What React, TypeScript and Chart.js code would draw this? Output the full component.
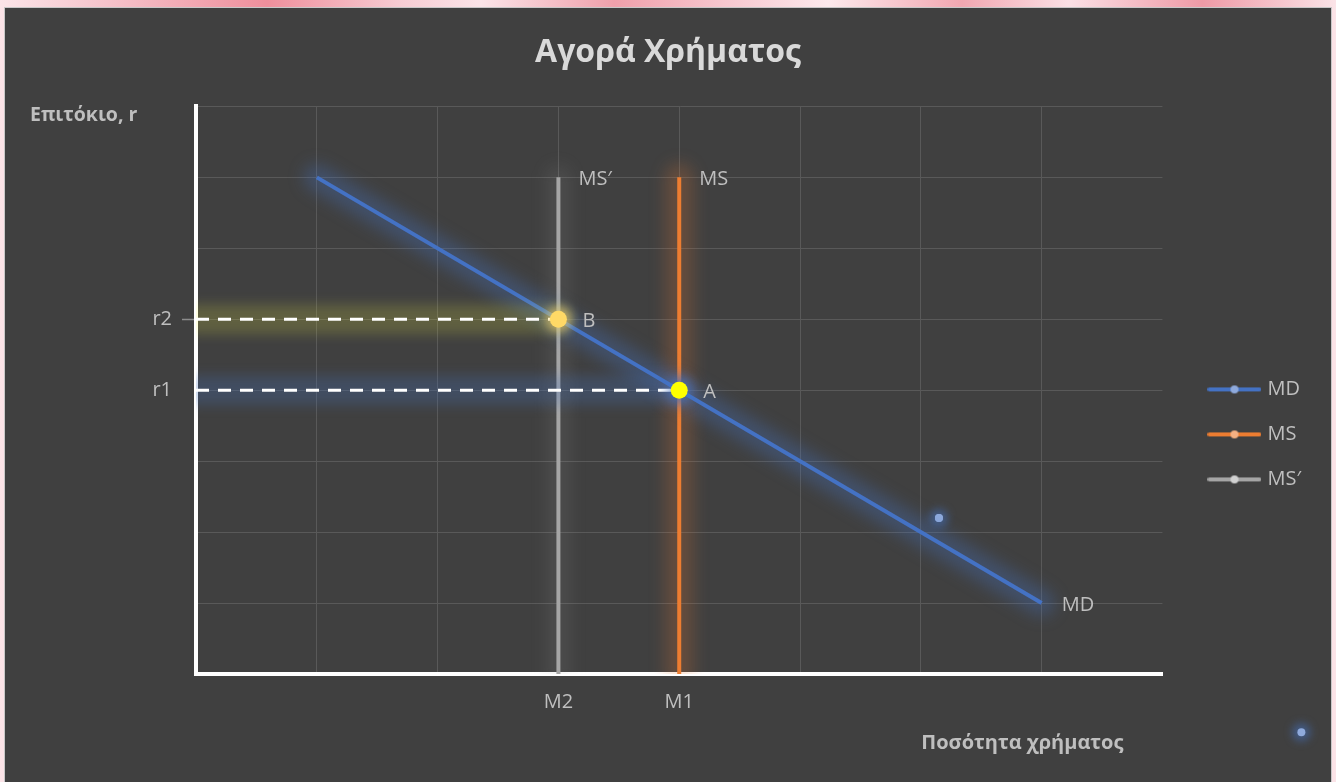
import React, { useEffect, useRef } from 'react';
import { Chart, registerables } from 'chart.js';

Chart.register(...registerables);

// ---------- texts ----------
const TITLE = 'Αγορά Χρήματος';
const Y_AXIS_TITLE = 'Επιτόκιο, r';
const X_AXIS_TITLE = 'Ποσότητα χρήματος';

// ---------- data ----------
const seriesNames = ['MD', 'MS', 'MS′'];
const mdX = [1, 7];
const mdY = [7, 1];
const msX = [4, 4];
const msY = [0, 7];
const msPrimeX = [3, 3];
const msPrimeY = [0, 7];
const eqNames = ['B', 'A'];
const eqX = [3, 4];
const eqY = [5, 4];
const strayX = [6.15, 9.15];
const strayY = [2.2, -0.82];
const xTickValues = [3, 4];
const xTickLabels = ['M2', 'M1'];
const yTickValues = [4, 5];
const yTickLabels = ['r1', 'r2'];
const axisMin = 0;
const axisMax = 8;

const FONT = '"Open Sans", "Noto Sans", sans-serif';
const TEXT = '#bfbfbf';

const pts = (xs: number[], ys: number[]) => xs.map((x, i) => ({ x, y: ys[i] }));

function legendIcon(line: string, dot: string) {
  const c = document.createElement('canvas');
  c.width = 54;
  c.height = 12;
  const g = c.getContext('2d')!;
  g.strokeStyle = line;
  g.lineWidth = 4;
  g.lineCap = 'round';
  g.beginPath();
  g.moveTo(2, 6);
  g.lineTo(52, 6);
  g.stroke();
  g.fillStyle = dot;
  g.beginPath();
  g.arc(27, 6, 4, 0, Math.PI * 2);
  g.fill();
  return c;
}

const glowPlugin = {
  id: 'glow',
  beforeDatasetDraw(chart: any, args: any) {
    const ds = chart.data.datasets[args.index];
    const g = ds.glow;
    if (!g || !chart.isDatasetVisible(args.index)) return;
    const ctx = chart.ctx;
    const a = chart.chartArea;
    const els = args.meta.data;
    ctx.save();
    if (ds.clip !== false) {
      ctx.beginPath();
      ctx.rect(a.left, a.top, a.right - a.left, a.bottom - a.top);
      ctx.clip();
    }
    ctx.filter = `blur(${g.blur}px)`;
    ctx.globalAlpha = g.alpha;
    if (ds.showLine && els.length > 1) {
      ctx.strokeStyle = g.color;
      ctx.lineWidth = g.width;
      ctx.lineCap = 'round';
      ctx.beginPath();
      ctx.moveTo(els[0].x, els[0].y);
      for (let i = 1; i < els.length; i++) ctx.lineTo(els[i].x, els[i].y);
      ctx.stroke();
    } else {
      els.forEach((el: any, i: number) => {
        ctx.fillStyle = Array.isArray(g.color) ? g.color[i] : g.color;
        ctx.beginPath();
        ctx.arc(el.x, el.y, g.width, 0, Math.PI * 2);
        ctx.fill();
      });
    }
    ctx.restore();
  },
  afterDatasetDraw(chart: any, args: any) {
    const ds = chart.data.datasets[args.index];
    if (ds.clip !== false || !chart.isDatasetVisible(args.index)) return;
    // unclipped dataset: also draw the markers that lie outside the plot area
    args.meta.data.forEach((el: any) => el.draw(chart.ctx));
  },
};

const dataLabelPlugin = {
  id: 'dataLabels',
  afterDatasetsDraw(chart: any) {
    const ctx = chart.ctx;
    ctx.save();
    ctx.font = `20px ${FONT}`;
    ctx.fillStyle = TEXT;
    ctx.textAlign = 'left';
    ctx.textBaseline = 'middle';
    chart.data.datasets.forEach((ds: any, di: number) => {
      if (!ds.pointLabels || !chart.isDatasetVisible(di)) return;
      const meta = chart.getDatasetMeta(di);
      ds.pointLabels.forEach((t: string, i: number) => {
        if (!t) return;
        const el = meta.data[i];
        ctx.fillText(t, el.x + ds.labelOffset, el.y + 2);
      });
    });
    ctx.restore();
  },
};

const axisTitlePlugin = {
  id: 'axisTitles',
  afterDraw(chart: any) {
    const ctx = chart.ctx;
    const a = chart.chartArea;
    ctx.save();
    ctx.font = `bold 19.5px ${FONT}`;
    ctx.fillStyle = TEXT;
    ctx.textBaseline = 'middle';
    ctx.textAlign = 'left';
    ctx.fillText(Y_AXIS_TITLE, a.left - 166, a.top + 9);
    ctx.font = `bold 20px ${FONT}`;
    ctx.textAlign = 'right';
    ctx.fillText(X_AXIS_TITLE, a.right - 39, a.bottom + 69);
    ctx.restore();
  },
};

// places the legend column a little right of the plot and level with the curves
const legendPlacePlugin = {
  id: 'legendPlace',
  afterLayout(chart: any) {
    const l = chart.legend;
    const a = chart.chartArea;
    if (!l || !a) return;
    const dx = a.right + 24 - l.left;
    l.left += dx;
    l.right += dx;
    const dy = a.top + 328 - (l.top + l.bottom) / 2;
    l.top += dy;
    l.bottom += dy;
  },
};

export default function App() {
  const ref = useRef<HTMLCanvasElement>(null);

  useEffect(() => {
    if (!ref.current) return;
    const legendDots = ['#8FAADC', '#F4B183', '#D0D0D0'];
    const legendIdx = [3, 4, 5];
    const chart = new Chart(ref.current, {
      type: 'scatter',
      data: {
        datasets: [
          {
            label: 'eq',
            data: pts(eqX, eqY),
            showLine: false,
            pointRadius: 8.5,
            pointHoverRadius: 8.5,
            pointBorderWidth: 0,
            backgroundColor: ['#FFD966', '#FFFF00'],
            borderColor: ['#FFD966', '#FFFF00'],
            pointLabels: eqNames,
            labelOffset: 24,
            glow: { color: ['#FFD966', '#4472C4'], width: 13, blur: 5, alpha: 0.55 },
          } as any,
          {
            label: 'r2',
            data: [{ x: axisMin, y: eqY[0] }, { x: eqX[0], y: eqY[0] }],
            showLine: true,
            pointRadius: 0,
            borderColor: '#ffffff',
            borderWidth: 3,
            borderDash: [13, 9],
            glow: { color: '#FFFF40', width: 30, blur: 6, alpha: 0.17 },
          } as any,
          {
            label: 'r1',
            data: [{ x: axisMin, y: eqY[1] }, { x: eqX[1], y: eqY[1] }],
            showLine: true,
            pointRadius: 0,
            borderColor: '#ffffff',
            borderWidth: 3,
            borderDash: [13, 9],
            glow: { color: '#4472C4', width: 30, blur: 6, alpha: 0.25 },
          } as any,
          {
            label: seriesNames[0],
            data: pts(mdX, mdY),
            showLine: true,
            pointRadius: 0,
            borderColor: '#4472C4',
            borderWidth: 4,
            pointLabels: ['', seriesNames[0]],
            labelOffset: 20,
            glow: { color: '#4472C4', width: 26, blur: 8, alpha: 0.32 },
          } as any,
          {
            label: seriesNames[1],
            data: pts(msX, msY),
            showLine: true,
            pointRadius: 0,
            borderColor: '#ED7D31',
            borderWidth: 4,
            pointLabels: ['', seriesNames[1]],
            labelOffset: 20,
            glow: { color: '#ED7D31', width: 28, blur: 8, alpha: 0.22 },
          } as any,
          {
            label: seriesNames[2],
            data: pts(msPrimeX, msPrimeY),
            showLine: true,
            pointRadius: 0,
            borderColor: '#A5A5A5',
            borderWidth: 4,
            pointLabels: ['', seriesNames[2]],
            labelOffset: 20,
            glow: { color: '#A5A5A5', width: 24, blur: 8, alpha: 0.12 },
          } as any,
          {
            label: 'stray',
            data: pts(strayX, strayY),
            showLine: false,
            clip: false,
            pointRadius: 4,
            pointBorderWidth: 0,
            backgroundColor: '#8FAADC',
            borderColor: '#8FAADC',
            glow: { color: '#4472C4', width: 9, blur: 4, alpha: 0.55 },
          } as any,
        ],
      },
      options: {
        animation: false,
        responsive: false,
        events: [],
        layout: { padding: { left: 44, right: 44, top: 0, bottom: 52 } },
        scales: {
          x: {
            type: 'linear',
            min: axisMin,
            max: axisMax,
            border: { color: '#ffffff', width: 4 },
            grid: {
              drawTicks: false,
              color: (c: any) =>
                c.tick && (c.tick.value === axisMin || c.tick.value === axisMax) ? 'rgba(0,0,0,0)' : '#595959',
              lineWidth: 1,
            },
            ticks: {
              stepSize: 1,
              autoSkip: false,
              maxRotation: 0,
              padding: 16,
              color: TEXT,
              font: { family: FONT, size: 20 },
              callback: (v: any) => {
                const i = xTickValues.indexOf(Number(v));
                return i >= 0 ? xTickLabels[i] : '';
              },
            },
          },
          y: {
            type: 'linear',
            min: axisMin,
            max: axisMax,
            afterFit: (scale: any) => {
              scale.width = 147;
            },
            border: { color: '#ffffff', width: 4 },
            grid: {
              drawTicks: true,
              tickLength: 14,
              tickWidth: 1.5,
              tickColor: (c: any) => (c.tick && c.tick.value === yTickValues[1] ? '#8c8c8c' : 'rgba(0,0,0,0)'),
              color: (c: any) => (c.tick && c.tick.value === axisMin ? 'rgba(0,0,0,0)' : '#595959'),
              lineWidth: 1,
            },
            ticks: {
              stepSize: 1,
              autoSkip: false,
              padding: 10,
              color: TEXT,
              font: { family: FONT, size: 20 },
              callback: (v: any) => {
                const i = yTickValues.indexOf(Number(v));
                return i >= 0 ? yTickLabels[i] : '';
              },
            },
          },
        },
        plugins: {
          tooltip: { enabled: false },
          title: {
            display: true,
            text: TITLE,
            color: '#d9d9d9',
            font: { family: FONT, size: 32, weight: 'bold' },
            padding: { top: 26, bottom: 34 },
          },
          legend: {
            display: true,
            position: 'right',
            align: 'center',
            labels: {
              usePointStyle: true,
              pointStyleWidth: 46,
              padding: 25,
              color: TEXT,
              font: { family: FONT, size: 20 },
              generateLabels: (ch: any) =>
                legendIdx.map((di, k) => {
                  const ds = ch.data.datasets[di];
                  return {
                    text: ds.label,
                    pointStyle: legendIcon(ds.borderColor, legendDots[k]),
                    fillStyle: 'rgba(0,0,0,0)',
                    strokeStyle: 'rgba(0,0,0,0)',
                    lineWidth: 0,
                    fontColor: TEXT,
                    hidden: !ch.isDatasetVisible(di),
                    datasetIndex: di,
                  };
                }),
            },
          },
        },
      } as any,
      plugins: [glowPlugin, dataLabelPlugin, axisTitlePlugin, legendPlacePlugin],
    });
    return () => chart.destroy();
  }, []);

  return (
    <div
      style={{
        position: 'fixed',
        inset: 0,
        background:
          'linear-gradient(90deg, #fbe4e8 0%, #f6c3cb 8%, #ef8f9c 20%, #f7ccd3 30%, #fbe4e8 36%, #f0a0ab 46%, #f7c6ce 54%, #fde9ec 62%, #f2a7b1 72%, #fbe0e5 80%, #ef9aa6 90%, #fbe4e8 100%)',
      }}
    >
      <div
        style={{
          position: 'absolute',
          left: 4,
          top: 7,
          width: 1328,
          height: 775,
          boxSizing: 'border-box',
          background: '#404040',
          borderTop: '1px solid #c8c8c8',
          borderLeft: '1px solid #c8c8c8',
          borderRight: '1px solid #c8c8c8',
        }}
      >
        <canvas ref={ref} width={1326} height={774} style={{ display: 'block' }} />
      </div>
    </div>
  );
}
